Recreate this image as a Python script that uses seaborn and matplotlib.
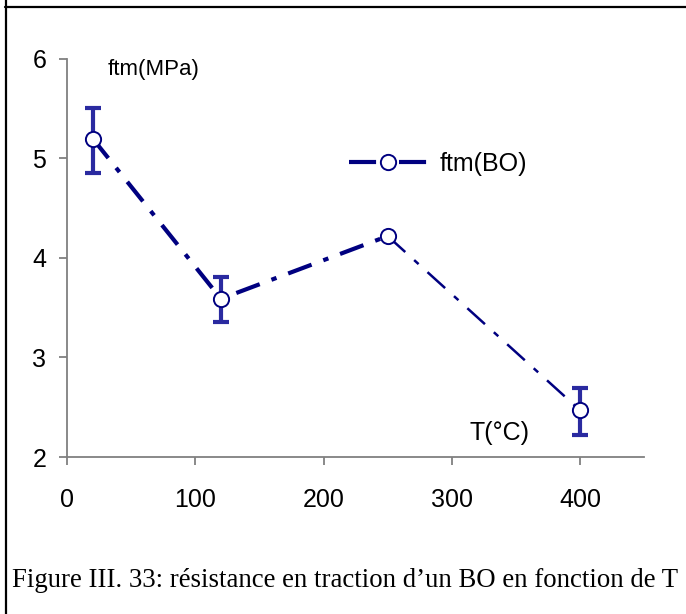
import matplotlib
matplotlib.use("Agg")
import matplotlib.pyplot as plt
from matplotlib.lines import Line2D
import seaborn as sns
import pandas as pd

# Tensile strength of the concrete vs temperature
temperature = [20, 120, 250, 400]
ftm = [5.20, 3.59, 4.22, 2.47]
err_low = [0.35, 0.23, 0.0, 0.25]
err_high = [0.31, 0.22, 0.0, 0.22]
has_err = [True, True, False, True]

x_ticks = [0, 100, 200, 300, 400]
y_ticks = [2, 3, 4, 5, 6]

sns.set_theme(style="white")
plt.rcParams["font.family"] = ["Liberation Sans", "DejaVu Sans"]
plt.rcParams["text.color"] = "black"

NAVY = "#000080"
AXIS_GREY = "#808080"

df = pd.DataFrame({"T": temperature, "ftm": ftm})

fig = plt.figure(figsize=(6.86, 6.14), dpi=100)
ax = fig.add_axes([0.0977, 0.2557, 0.8413, 0.6483])

# heavy dash-dot for the first two segments, lighter one for the last
sns.lineplot(data=df.iloc[:3], x="T", y="ftm", ax=ax, color=NAVY, lw=3.0,
             dashes=False, estimator=None, sort=False, legend=False)
ax.lines[-1].set_dashes((6.0, 3.0, 1.3, 3.0))
sns.lineplot(data=df.iloc[2:], x="T", y="ftm", ax=ax, color=NAVY, lw=1.8,
             dashes=False, estimator=None, sort=False, legend=False)
ax.lines[-1].set_dashes((9.5, 4.8, 2.4, 4.8))

# error bars
ex = [t for t, h in zip(temperature, has_err) if h]
ey = [v for v, h in zip(ftm, has_err) if h]
el = [v for v, h in zip(err_low, has_err) if h]
eh = [v for v, h in zip(err_high, has_err) if h]
ax.errorbar(ex, ey, yerr=[el, eh], fmt="none", ecolor="#2a2aa0",
            elinewidth=3.0, capsize=6, capthick=3.0, zorder=3)

# markers
sns.scatterplot(data=df, x="T", y="ftm", ax=ax, marker="o", s=120,
                facecolor="white", edgecolor=NAVY, linewidth=1.4,
                zorder=5, legend=False)

ax.set_xlim(0, 450)
ax.set_ylim(2, 6)
ax.set_xticks(x_ticks)
ax.set_yticks(y_ticks)
ax.set_xticklabels([str(v) for v in x_ticks])
ax.set_yticklabels([str(v) for v in y_ticks])
ax.set_xlabel("")
ax.set_ylabel("")

for side in ("top", "right"):
    ax.spines[side].set_visible(False)
for side in ("left", "bottom"):
    ax.spines[side].set_color(AXIS_GREY)
    ax.spines[side].set_linewidth(1.3)

ax.tick_params(axis="both", which="major", direction="out", length=6,
               width=1.3, color=AXIS_GREY, labelsize=18, labelcolor="black",
               bottom=True, left=True)
ax.tick_params(axis="x", pad=16)
ax.tick_params(axis="y", pad=9)

ax.text(32, 5.89, "ftm(MPa)", fontsize=16, ha="left", va="center")
ax.text(314, 2.24, "T(°C)", fontsize=18, ha="left", va="center")

handle = Line2D([0], [0], color=NAVY, lw=3.0, marker="o", markersize=11,
                markerfacecolor="white", markeredgecolor=NAVY,
                markeredgewidth=1.4)
handle.set_dashes((6.5, 5.5))
leg = ax.legend([handle], ["ftm(BO)"], loc="center left",
                bbox_to_anchor=(0.45, 0.736), frameon=False, fontsize=18,
                handlelength=3.1, handletextpad=0.5)

# page frame lines and caption
fig.add_artist(Line2D([0.008, 1.0], [0.9886, 0.9886], color="black", lw=1.6,
                      transform=fig.transFigure))
fig.add_artist(Line2D([0.0087, 0.0087], [0.0, 1.0], color="black", lw=1.6,
                      transform=fig.transFigure))
fig.text(0.018, 0.055, "Figure III. 33: résistance en traction d’un BO en fonction de T",
         fontsize=19.3, family=["Liberation Serif", "DejaVu Serif"],
         ha="left", va="center")

fig.savefig("out.png", dpi=100)
